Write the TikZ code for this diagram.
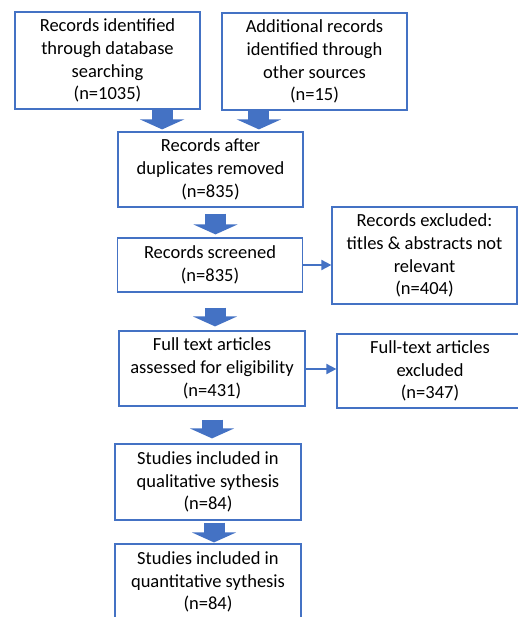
\documentclass[tikz,border=0pt]{standalone}
\usepackage{fontspec}
\setmainfont{Carlito}
\usetikzlibrary{arrows.meta,calc}
\definecolor{flowblue}{HTML}{4472C4}
\tikzset{
  stage/.style={draw=flowblue, line width=1.2pt, align=center, inner sep=0pt,
    minimum width=185pt, font=\fontsize{18.5}{22.8}\selectfont},
  bigarrow/.style={draw=flowblue, line width=21pt, -{Triangle[width=44pt,length=10pt]}},
  sidearrow/.style={draw=flowblue, line width=1.8pt, -{Triangle[width=10pt,length=10pt]}}
}
\begin{document}
\begin{tikzpicture}[x=1pt,y=-1pt]
  \useasboundingbox (0,0) rectangle (518,617);

  \node[stage, minimum height=97pt] (dbase) at (107.5,60.5) {Records identified\\through database\\searching\\(n=1035)};
  \node[stage, minimum height=97pt] (other) at (314.5,61.5) {Additional records\\identified through\\other sources\\(n=15)};
  \node[stage, minimum height=75pt] (dedup) at (210.5,169.5) {Records after\\duplicates removed\\(n=835)};

  \node[stage, minimum height=54pt] (screen) at (210,265) {Records screened\\(n=835)};
  \node[stage, minimum height=97pt] (excl) at (424.5,255.5) {Records excluded:\\titles \& abstracts not\\relevant\\(n=404)};

  \node[stage, minimum height=75pt, minimum width=186pt] (elig) at (212,368.5) {Full text articles\\assessed for eligibility\\(n=431)};
  \node[stage, minimum height=74pt, minimum width=186pt] (fexcl) at (430,371) {Full-text articles\\excluded\\(n=347)};

  \node[stage, minimum height=76pt, minimum width=186pt] (qual) at (208,482) {Studies included in\\qualitative sythesis\\(n=84)};
  \node[stage, minimum height=76pt, minimum width=186pt] (quant) at (208,582) {Studies included in\\quantitative sythesis\\(n=84)};

  % block arrows down the main column
  \draw[bigarrow, shorten >=2pt] ([xshift=-38.5pt]dbase.south east) -- ([xshift=-38.5pt]dbase.south east |- dedup.north);
  \draw[bigarrow, shorten >=2pt] ([xshift=37.5pt]other.south west) -- ([xshift=37.5pt]other.south west |- dedup.north);
  \draw[bigarrow, shorten <=6pt, shorten >=3pt] ([xshift=5pt]dedup.south) -- ([xshift=5pt]dedup.south |- screen.north);
  \draw[bigarrow, shorten <=15pt, shorten >=4pt] ([xshift=5pt]screen.south) -- ([xshift=5pt]screen.south |- elig.north);
  \draw[bigarrow, shorten <=13pt, shorten >=5pt] (elig.south) -- (elig.south |- qual.north);
  \draw[bigarrow, shorten <=2pt, shorten >=1pt] ([xshift=6pt]qual.south) -- ([xshift=6pt]qual.south |- quant.north);

  % exclusions
  \draw[sidearrow] (screen.east) -- (screen.east -| excl.west);
  \draw[sidearrow] ([yshift=-0.5pt]elig.east) -- ([yshift=-0.5pt]elig.east -| fexcl.west);
\end{tikzpicture}
\end{document}
